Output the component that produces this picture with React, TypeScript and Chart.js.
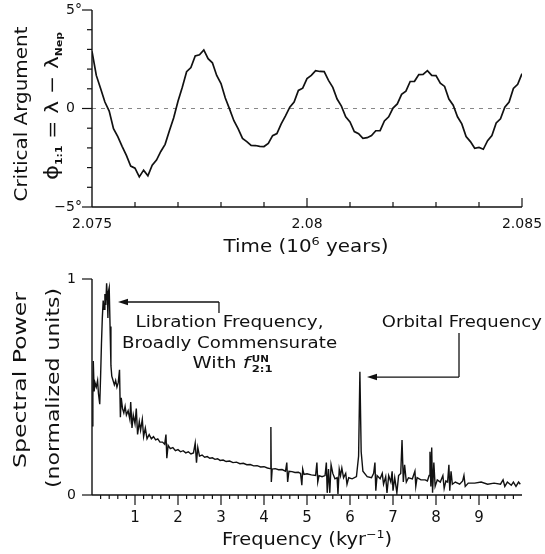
import React, { useEffect, useRef } from "react";
import { Chart, registerables } from "chart.js";
Chart.register(...registerables);

const FAM = "'DejaVu Sans', sans-serif";

// ---------- Top panel data ----------
const timeStart = 2.075;
const timeStep = 0.0001;
const criticalArgument = [
  2.9, 1.68, 1.02, 0.33, -0.13, -1.02, -1.43, -1.92, -2.38, -2.92,
  -3.03, -3.47, -3.13, -3.42, -2.88, -2.62, -2.18, -1.82, -1.13, -0.47,
  0.37, 1.08, 1.87, 2.08, 2.67, 2.73, 2.97, 2.53, 2.32, 1.68,
  1.27, 0.53, -0.03, -0.62, -1.03, -1.52, -1.68, -1.87, -1.88, -1.92,
  -1.93, -1.77, -1.38, -1.27, -0.78, -0.37, 0.07, 0.33, 0.92, 1.03,
  1.52, 1.68, 1.92, 1.88, 1.87, 1.43, 1.07, 0.48, 0.12, -0.42,
  -0.68, -1.17, -1.28, -1.52, -1.48, -1.37, -1.13, -1.12, -0.63, -0.42,
  0.02, 0.23, 0.72, 0.88, 1.37, 1.38, 1.72, 1.73, 1.92, 1.68,
  1.67, 1.28, 1.12, 0.48, 0.17, -0.42, -0.78, -1.42, -1.68, -2.02,
  -1.98, -2.07, -1.63, -1.37, -0.73, -0.52, 0.07, 0.33, 1.02, 1.23,
  1.77,
];
const timeTicks = [2.075, 2.08, 2.085];
const timeTickLabels = ["2.075", "2.08", "2.085"];
const angleTicks = [-5, 0, 5];
const angleTickLabels = ["\u22125\u00b0", "0\u2002", "5\u00b0"];

// ---------- Bottom panel data ----------
const freq = [
  0.0, 0.02, 0.03, 0.05, 0.07, 0.1, 0.13, 0.15, 0.18, 0.2,
  0.22, 0.24, 0.26, 0.28, 0.3, 0.32, 0.34, 0.36, 0.37, 0.38,
  0.4, 0.42, 0.44, 0.46, 0.49, 0.52, 0.55, 0.58, 0.61, 0.64,
  0.66, 0.68, 0.71, 0.74, 0.77, 0.8, 0.84, 0.88, 0.9, 0.93,
  0.96, 1.0, 1.03, 1.06, 1.1, 1.13, 1.17, 1.2, 1.24, 1.28,
  1.33, 1.38, 1.43, 1.48, 1.53, 1.58, 1.64, 1.69, 1.72, 1.74,
  1.77, 1.82, 1.88, 1.94, 2.0, 2.06, 2.12, 2.18, 2.24, 2.3,
  2.36, 2.4, 2.43, 2.46, 2.5, 2.56, 2.62, 2.68, 2.74, 2.8,
  2.86, 2.92, 2.98, 3.05, 3.12, 3.2, 3.28, 3.36, 3.44, 3.52,
  3.6, 3.68, 3.76, 3.84, 3.92, 4.0, 4.08, 4.14, 4.16, 4.17,
  4.19, 4.26, 4.34, 4.42, 4.5, 4.53, 4.55, 4.58, 4.65, 4.72,
  4.8, 4.85, 4.88, 4.9, 4.93, 5.0, 5.1, 5.2, 5.23, 5.25,
  5.28, 5.35, 5.42, 5.45, 5.47, 5.5, 5.53, 5.56, 5.6, 5.65,
  5.7, 5.72, 5.75, 5.78, 5.81, 5.85, 5.9, 5.93, 5.97, 6.05,
  6.15, 6.2, 6.23, 6.26, 6.3, 6.4, 6.5, 6.55, 6.58, 6.6,
  6.63, 6.7, 6.75, 6.78, 6.83, 6.86, 6.9, 6.95, 6.98, 7.0,
  7.04, 7.09, 7.13, 7.18, 7.21, 7.24, 7.27, 7.31, 7.36, 7.45,
  7.51, 7.53, 7.56, 7.65, 7.75, 7.8, 7.84, 7.86, 7.88, 7.9,
  7.92, 7.95, 7.98, 8.03, 8.1, 8.16, 8.19, 8.23, 8.27, 8.3,
  8.32, 8.35, 8.38, 8.45, 8.55, 8.62, 8.65, 8.68, 8.75, 8.9,
  9.05, 9.2, 9.35, 9.5, 9.56, 9.6, 9.66, 9.75, 9.8, 9.86,
  9.92, 9.96,
];
const power = [
  0.32, 0.45, 0.62, 0.48, 0.52, 0.5, 0.53, 0.47, 0.42, 0.55,
  0.7, 0.82, 0.9, 0.86, 0.93, 0.88, 0.98, 0.9, 0.82, 0.94,
  0.96, 0.78, 0.6, 0.55, 0.53, 0.51, 0.53, 0.5, 0.52, 0.58,
  0.36, 0.45, 0.4, 0.38, 0.41, 0.37, 0.39, 0.35, 0.43, 0.31,
  0.37, 0.33, 0.4, 0.28, 0.34, 0.3, 0.35, 0.27, 0.31, 0.26,
  0.28, 0.26, 0.27, 0.255, 0.26, 0.245, 0.245, 0.235, 0.28, 0.17,
  0.23, 0.215, 0.22, 0.205, 0.21, 0.2, 0.205, 0.195, 0.2, 0.19,
  0.195, 0.24, 0.15, 0.22, 0.18, 0.185, 0.175, 0.178, 0.17, 0.172,
  0.165, 0.168, 0.16, 0.162, 0.155, 0.157, 0.15, 0.152, 0.145, 0.147,
  0.14, 0.141, 0.135, 0.136, 0.13, 0.131, 0.125, 0.122, 0.315, 0.06,
  0.12, 0.122, 0.117, 0.118, 0.11, 0.15, 0.06, 0.11, 0.108, 0.104,
  0.105, 0.1, 0.045, 0.12, 0.095, 0.098, 0.093, 0.09, 0.15, 0.06,
  0.09, 0.085, 0.09, 0.15, 0.01, 0.12, 0.01, 0.14, 0.1, 0.075,
  0.08, 0.005, 0.12, 0.09, 0.125, 0.08, 0.1, 0.05, 0.08, 0.075,
  0.085, 0.18, 0.57, 0.2, 0.11, 0.085, 0.08, 0.1, 0.15, 0.02,
  0.09, 0.075, 0.1, 0.05, 0.085, 0.01, 0.09, 0.06, 0.11, 0.02,
  0.08, 0.01, 0.09, 0.1, 0.255, 0.06, 0.14, 0.06, 0.08, 0.075,
  0.11, 0.04, 0.08, 0.07, 0.07, 0.065, 0.09, 0.2, 0.04, 0.22,
  0.01, 0.15, 0.04, 0.07, 0.06, 0.09, 0.03, 0.065, 0.06, 0.14,
  0.02, 0.11, 0.05, 0.06, 0.05, 0.065, 0.09, 0.04, 0.055, 0.055,
  0.06, 0.05, 0.055, 0.05, 0.07, 0.04, 0.06, 0.045, 0.06, 0.04,
  0.06, 0.05,
];
const freqTicks = [1, 2, 3, 4, 5, 6, 7, 8, 9];
const freqTickLabels = ["1", "2", "3", "4", "5", "6", "7", "8", "9"];
const powerTicks = [0, 1];
const powerTickLabels = ["0", "1"];

// annotation anchors in data coordinates
const librationArrow = { tipX: 0.605, cornerX: 2.953, y: 0.8935, stemY: 0.8426 };
const orbitalArrow = { tipX: 6.395, cornerX: 8.535, y: 0.546, stemY: 0.75 };

type Part = { t: string; f: string; dy?: number; sub?: string; subF?: string; subDy?: number };

function partsWidth(ctx: CanvasRenderingContext2D, parts: Part[]) {
  let w = 0;
  for (const p of parts) {
    ctx.font = p.f;
    let pw = ctx.measureText(p.t).width;
    if (p.sub) {
      ctx.font = p.subF || p.f;
      pw = Math.max(pw, ctx.measureText(p.sub).width);
    }
    w += pw;
  }
  return w;
}

function drawParts(
  ctx: CanvasRenderingContext2D,
  parts: Part[],
  x: number,
  y: number,
  targetW: number,
  rotate: boolean
) {
  ctx.save();
  ctx.fillStyle = "#111";
  ctx.translate(x, y);
  if (rotate) ctx.rotate(-Math.PI / 2);
  const w = partsWidth(ctx, parts);
  const s = targetW > 0 ? targetW / w : 1;
  ctx.scale(s, 1);
  ctx.textAlign = "left";
  ctx.textBaseline = "alphabetic";
  let cx = -w / 2;
  for (const p of parts) {
    ctx.font = p.f;
    let pw = ctx.measureText(p.t).width;
    ctx.fillText(p.t, cx, p.dy || 0);
    if (p.sub) {
      ctx.font = p.subF || p.f;
      ctx.fillText(p.sub, cx, p.subDy || 0);
      pw = Math.max(pw, ctx.measureText(p.sub).width);
    }
    cx += pw;
  }
  ctx.restore();
}

function line(ctx: CanvasRenderingContext2D, x1: number, y1: number, x2: number, y2: number) {
  ctx.beginPath();
  ctx.moveTo(x1, y1);
  ctx.lineTo(x2, y2);
  ctx.stroke();
}

function arrowHeadLeft(ctx: CanvasRenderingContext2D, x: number, y: number) {
  ctx.beginPath();
  ctx.moveTo(x, y);
  ctx.lineTo(x + 10, y - 3.2);
  ctx.lineTo(x + 10, y + 3.2);
  ctx.closePath();
  ctx.fill();
}

function zeroPad(s: any) {
  s.paddingTop = 0;
  s.paddingBottom = 0;
  s.paddingLeft = 0;
  s.paddingRight = 0;
}

const topPlugin = {
  id: "topDecor",
  afterDraw(chart: any) {
    const ctx: CanvasRenderingContext2D = chart.ctx;
    const xs = chart.scales.x;
    const ys = chart.scales.y;
    const { left, right, top, bottom } = chart.chartArea;
    ctx.save();
    ctx.strokeStyle = "#111";
    ctx.fillStyle = "#111";
    ctx.lineWidth = 1.4;
    line(ctx, left, top, left, bottom);
    line(ctx, left, bottom, right, bottom);
    ctx.lineWidth = 1.2;
    for (let k = 1; k <= 10; k++) {
      const v = timeStart + k * 0.001;
      const major = k === 5 || k === 10;
      const px = xs.getPixelForValue(v);
      line(ctx, px, bottom, px, bottom - (major ? 9 : 5));
    }
    for (let v = -5; v <= 5; v++) {
      const major = v % 5 === 0;
      const py = ys.getPixelForValue(v);
      line(ctx, left, py, left - (major ? 10 : 5), py);
    }
    ctx.restore();

    const big = `18px ${FAM}`;
    const sub = `bold 9px ${FAM}`;
    drawParts(ctx, [{ t: "Critical Argument", f: big }], 27, 114, 175, true);
    drawParts(
      ctx,
      [
        { t: "\u03d5", f: `19px ${FAM}` },
        { t: "1:1", f: sub, dy: 4 },
        { t: " = \u03bb \u2212 \u03bb", f: big },
        { t: "Nep", f: sub, dy: 4 },
      ],
      58,
      106,
      148,
      true
    );
    drawParts(
      ctx,
      [
        { t: "Time (10", f: `17px ${FAM}` },
        { t: "6", f: `11px ${FAM}`, dy: -7 },
        { t: " years)", f: `17px ${FAM}` },
      ],
      306,
      252,
      165,
      false
    );
  },
};

const bottomPlugin = {
  id: "bottomDecor",
  afterDraw(chart: any) {
    const ctx: CanvasRenderingContext2D = chart.ctx;
    const xs = chart.scales.x;
    const ys = chart.scales.y;
    const { left, right, top, bottom } = chart.chartArea;
    ctx.save();
    ctx.strokeStyle = "#111";
    ctx.fillStyle = "#111";
    ctx.lineWidth = 1.4;
    line(ctx, left, top, left, bottom);
    line(ctx, left, bottom, right, bottom);
    ctx.lineWidth = 1.2;
    for (let k = 1; k < 50; k++) {
      const v = k * 0.2;
      const major = k % 5 === 0;
      const px = xs.getPixelForValue(v);
      line(ctx, px, bottom, px, bottom + (major ? 10 : 4));
    }
    for (const v of powerTicks) {
      const py = ys.getPixelForValue(v);
      line(ctx, left, py, left - 10, py);
    }
    // arrows
    ctx.lineWidth = 1.3;
    const ly = ys.getPixelForValue(librationArrow.y);
    const lcx = xs.getPixelForValue(librationArrow.cornerX);
    const ltx = xs.getPixelForValue(librationArrow.tipX);
    line(ctx, lcx, ys.getPixelForValue(librationArrow.stemY), lcx, ly);
    line(ctx, lcx, ly, ltx + 8, ly);
    arrowHeadLeft(ctx, ltx, ly);
    const oy = ys.getPixelForValue(orbitalArrow.y);
    const ocx = xs.getPixelForValue(orbitalArrow.cornerX);
    const otx = xs.getPixelForValue(orbitalArrow.tipX);
    line(ctx, ocx, ys.getPixelForValue(orbitalArrow.stemY), ocx, oy);
    line(ctx, ocx, oy, otx + 8, oy);
    arrowHeadLeft(ctx, otx, oy);
    ctx.restore();

    const f15 = `15px ${FAM}`;
    const cxL = xs.getPixelForValue(3.2);
    drawParts(ctx, [{ t: "Libration Frequency,", f: f15 }], cxL, 65, 188, false);
    drawParts(ctx, [{ t: "Broadly Commensurate", f: f15 }], cxL, 86, 215, false);
    drawParts(
      ctx,
      [
        { t: "With ", f: f15 },
        { t: "f", f: `italic 16px ${FAM}` },
        { t: " ", f: `4px ${FAM}` },
        { t: "UN", f: `bold 8px ${FAM}`, dy: -6, sub: "2:1", subF: `bold 9px ${FAM}`, subDy: 4 },
      ],
      cxL + 3,
      106,
      80,
      false
    );
    drawParts(ctx, [{ t: "Orbital Frequency", f: f15 }], xs.getPixelForValue(8.6), 65, 160, false);

    const big = `17px ${FAM}`;
    drawParts(ctx, [{ t: "Spectral Power", f: big }], 26, 118, 176, true);
    drawParts(ctx, [{ t: "(normalized units)", f: big }], 59, 126, 200, true);
    drawParts(
      ctx,
      [
        { t: "Frequency (kyr", f: `17px ${FAM}` },
        { t: "\u22121", f: `11px ${FAM}`, dy: -7 },
        { t: ")", f: `17px ${FAM}` },
      ],
      307,
      283,
      170,
      false
    );
  },
};

export default function App() {
  const topRef = useRef<HTMLCanvasElement | null>(null);
  const botRef = useRef<HTMLCanvasElement | null>(null);

  useEffect(() => {
    Chart.defaults.font.family = FAM;
    Chart.defaults.color = "#111";
    const topData = criticalArgument.map((v, i) => ({ x: timeStart + i * timeStep, y: v }));
    const top = new Chart(topRef.current as HTMLCanvasElement, {
      type: "line",
      data: {
        datasets: [
          {
            data: topData,
            borderColor: "#111",
            borderWidth: 1.7,
            pointRadius: 0,
            tension: 0,
          },
          {
            data: [
              { x: timeTicks[0], y: 0 },
              { x: timeTicks[2], y: 0 },
            ],
            borderColor: "#888",
            borderWidth: 1,
            borderDash: [4, 5],
            pointRadius: 0,
          },
        ],
      },
      options: {
        responsive: false,
        animation: false,
        layout: { padding: { left: 0, right: 23, top: 10, bottom: 0 } },
        plugins: { legend: { display: false }, tooltip: { enabled: false } },
        scales: {
          x: {
            type: "linear",
            min: timeTicks[0],
            max: timeTicks[2],
            grid: { display: false, drawTicks: false },
            border: { display: false },
            afterBuildTicks: (s: any) => {
              s.ticks = timeTicks.map((v) => ({ value: v }));
            },
            afterFit: (s: any) => {
              s.height = 55;
              zeroPad(s);
            },
            ticks: {
              autoSkip: false,
              maxRotation: 0,
              padding: 9,
              font: { size: 14 },
              color: "#111",
              callback: (_v: any, i: number) => timeTickLabels[i],
            },
          },
          y: {
            type: "linear",
            min: -5,
            max: 5,
            grid: { display: false, drawTicks: false },
            border: { display: false },
            afterBuildTicks: (s: any) => {
              s.ticks = angleTicks.map((v) => ({ value: v }));
            },
            afterFit: (s: any) => {
              s.width = 92;
              zeroPad(s);
            },
            ticks: {
              autoSkip: false,
              padding: 10,
              font: { size: 14 },
              color: "#111",
              callback: (_v: any, i: number) => angleTickLabels[i],
            },
          },
        },
      },
      plugins: [topPlugin],
    });

    const botData = freq.map((x, i) => ({ x, y: power[i] }));
    const bot = new Chart(botRef.current as HTMLCanvasElement, {
      type: "line",
      data: {
        datasets: [
          {
            data: botData,
            borderColor: "#111",
            borderWidth: 1.4,
            pointRadius: 0,
            tension: 0,
          },
        ],
      },
      options: {
        responsive: false,
        animation: false,
        layout: { padding: { left: 0, right: 23, top: 17, bottom: 0 } },
        plugins: { legend: { display: false }, tooltip: { enabled: false } },
        scales: {
          x: {
            type: "linear",
            min: 0,
            max: 10,
            grid: { display: false, drawTicks: false },
            border: { display: false },
            afterBuildTicks: (s: any) => {
              s.ticks = freqTicks.map((v) => ({ value: v }));
            },
            afterFit: (s: any) => {
              s.height = 59;
              zeroPad(s);
            },
            ticks: {
              autoSkip: false,
              maxRotation: 0,
              padding: 14,
              font: { size: 15 },
              color: "#111",
              callback: (_v: any, i: number) => freqTickLabels[i],
            },
          },
          y: {
            type: "linear",
            min: 0,
            max: 1,
            grid: { display: false, drawTicks: false },
            border: { display: false },
            afterBuildTicks: (s: any) => {
              s.ticks = powerTicks.map((v) => ({ value: v }));
            },
            afterFit: (s: any) => {
              s.width = 92;
              zeroPad(s);
            },
            ticks: {
              autoSkip: false,
              padding: 16,
              font: { size: 14 },
              color: "#111",
              callback: (_v: any, i: number) => powerTickLabels[i],
            },
          },
        },
      },
      plugins: [bottomPlugin],
    });

    return () => {
      top.destroy();
      bot.destroy();
    };
  }, []);

  return (
    <div style={{ position: "absolute", left: 0, top: 0, width: 545, height: 554, background: "#fff" }}>
      <canvas ref={topRef} width={545} height={262} style={{ position: "absolute", left: 0, top: 0 }} />
      <canvas ref={botRef} width={545} height={292} style={{ position: "absolute", left: 0, top: 262 }} />
    </div>
  );
}
